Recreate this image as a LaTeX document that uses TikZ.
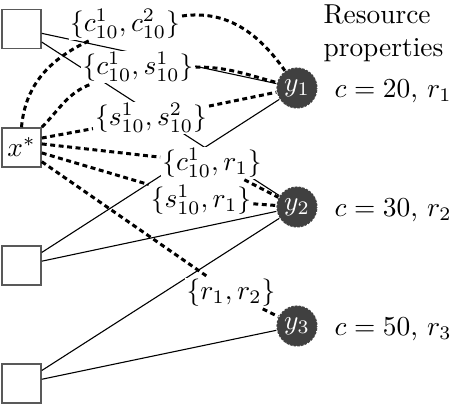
\documentclass[tikz,border=0pt]{standalone}
\usepackage{amsmath}
\begin{document}
\begin{tikzpicture}[x=0.365pt, y=-0.365pt,
  slot/.style={draw=gray!70!black, semithick, fill=white, minimum size=14.2pt, inner sep=0pt},
  res/.style={circle, fill=black!75, draw=white, densely dotted, text=white, minimum size=15pt, inner sep=0pt},
  tag/.style={fill=white, inner sep=0.6pt},
  link/.style={thin},
  pick/.style={line width=1.1pt, dash pattern=on 1.8pt off 1.3pt}]
\useasboundingbox (0,0) rectangle (452,406);
\node[slot] (b1) at (21.5,29) {};
\node[slot] (xs) at (21.5,147.5) {$x^*$};
\node[slot] (b3) at (21.5,265.5) {};
\node[slot] (b4) at (21.5,383.5) {};
\foreach \i/\y in {1/88, 2/207, 3/326}
{
    \node[res] (y\i) at (297,\y) {$y_{\i}$};
}
\foreach \a/\b in {b1/y1, b1/y2, b3/y1, b3/y2, b4/y2, b4/y3}
{
    \draw[link] (\a) -- (\b);
}
\node[tag] (l1) at (125,24) {$\{c^1_{10},c^2_{10}\}$};
\node[tag] (l2) at (138,67) {$\{c^1_{10},s^1_{10}\}$};
\node[tag] (l3) at (151,118) {$\{s^1_{10},s^2_{10}\}$};
\node[tag] (l4) at (212,163) {$\{c^1_{10},r_1\}$};
\node[tag] (l5) at (201,200) {$\{s^1_{10},r_1\}$};
\node[tag] (l6) at (231,293) {$\{r_1,r_2\}$};
\draw[pick] (xs.north) to[out=85,in=-155] (l1) to[out=8,in=125] (y1);
\draw[pick] (xs.north east) to[out=45,in=-160] (l2) to[out=0,in=165] (y1);
\draw[pick] (xs.25) -- (l3) -- (y1);
\draw[pick] (xs.10) -- (l4) -- (y2);
\draw[pick] (xs.-15) -- (l5) -- (y2);
\draw[pick] (xs.-35) -- (l6) -- (y3);
\node[anchor=north west, align=left, inner sep=0pt] (head) at (323,4) {Resource\\properties};
\foreach \i/\y/\c in {1/97/20, 2/216/30, 3/335/50}
{
    \node[anchor=base west, inner sep=0pt] (p\i) at (334,\y) {$c=\c$, $r_{\i}$};
}
\end{tikzpicture}
\end{document}
